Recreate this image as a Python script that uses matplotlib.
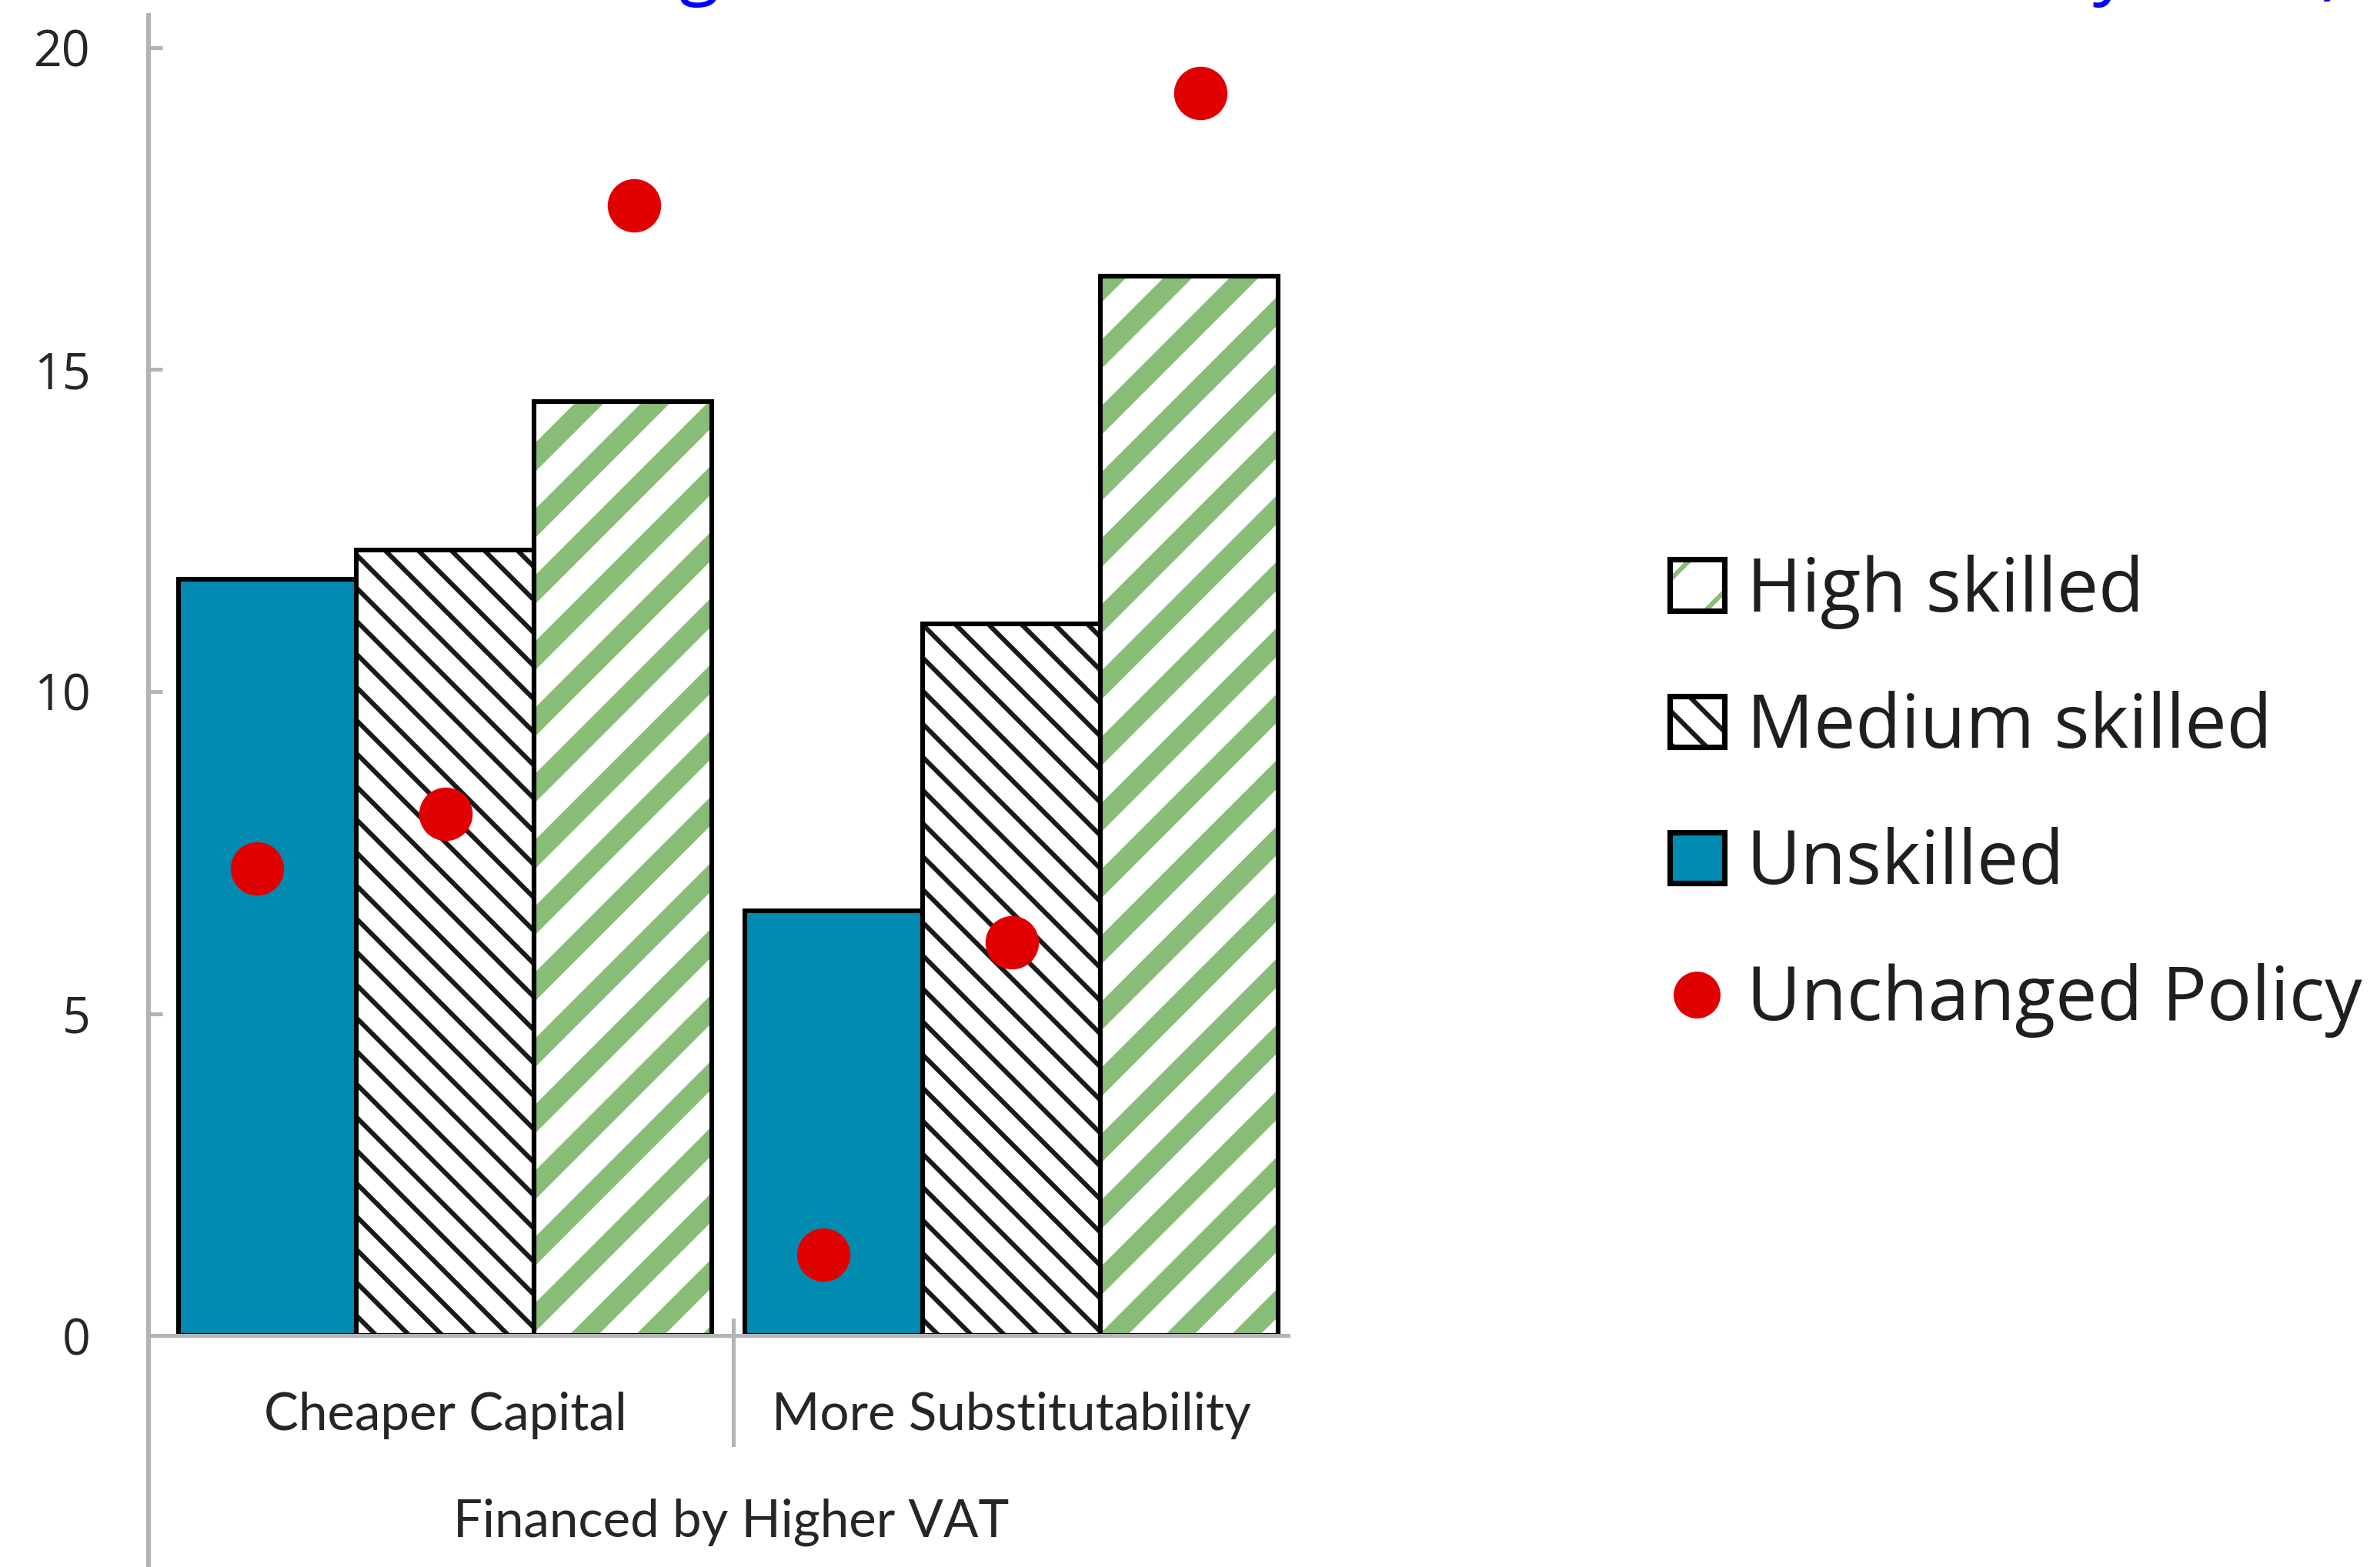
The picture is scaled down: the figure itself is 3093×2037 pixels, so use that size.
import numpy as np
import matplotlib
matplotlib.use("Agg")
import matplotlib.pyplot as plt
from matplotlib.patches import Patch
from matplotlib.lines import Line2D

# data
categories = ["Cheaper Capital", "More Substitutability"]
group_label = "Financed by Higher VAT"
unskilled = [11.75, 6.6]
medium = [12.2, 11.05]
high_skilled = [14.5, 16.45]
policy_unskilled = [7.25, 1.25]
policy_medium = [8.1, 6.1]
policy_high = [17.55, 19.3]
yticks = [0, 5, 10, 15, 20]
legend_labels = ["High skilled", "Medium skilled", "Unskilled", "Unchanged Policy"]
title = "Real Wage Increase Relative to Benchmark Run by Skills)"

TEAL = "#028bb0"
GREEN = "#88bd78"
RED = "#e00000"
AXIS_GREY = "#b4b4b4"
TEXT = "#262626"
NARROW = ["Liberation Sans Narrow", "Lato", "DejaVu Sans"]

MED_HATCH = "\\" * 4
HIGH_HATCH = "//"
MED_LW = 0.85
HIGH_LW = 3.7

plt.rcParams["font.family"] = ["Open Sans", "DejaVu Sans"]

# dpi picked so the hatch spacing comes out right
DPI = 516
fig = plt.figure(figsize=(3093 / DPI, 2037 / DPI), dpi=DPI)
ax = fig.add_axes([0.0624, 0.0, 0.4798, 0.9902])

x = np.arange(len(categories))
w = 0.3137
step = 0.333


def hatch_lw(bars, lw):
    for p in bars:
        if hasattr(p, "set_hatch_linewidth"):
            p.set_hatch_linewidth(lw)


ax.bar(x - w, unskilled, w, color=TEAL, edgecolor="black", linewidth=0.85, zorder=2)

plt.rcParams["hatch.linewidth"] = MED_LW
mb = ax.bar(x, medium, w, color="white", edgecolor="#1a1a1a", hatch=MED_HATCH, linewidth=0, zorder=2)
hatch_lw(mb, MED_LW)
ax.bar(x, medium, w, fill=False, edgecolor="black", linewidth=0.85, zorder=2.1)

plt.rcParams["hatch.linewidth"] = HIGH_LW
hb = ax.bar(x + w, high_skilled, w, color="white", edgecolor=GREEN, hatch=HIGH_HATCH, linewidth=0, zorder=2)
hatch_lw(hb, HIGH_LW)
ax.bar(x + w, high_skilled, w, fill=False, edgecolor="black", linewidth=0.85, zorder=2.1)

for off, vals in zip([-step, 0, step], [policy_unskilled, policy_medium, policy_high]):
    ax.plot(x + off, vals, "o", color=RED, ms=9.7, mec="none", zorder=3)

ax.axhline(0, color=AXIS_GREY, lw=0.7, zorder=2.5)
for s in ["top", "right", "bottom"]:
    ax.spines[s].set_visible(False)
ax.spines["left"].set_color(AXIS_GREY)
ax.spines["left"].set_linewidth(0.85)

ax.set_xlim(-0.524, 1.492)
ax.set_ylim(-3.596, 20.502)
ax.set_xticks([])
ax.set_yticks(yticks)
ax.tick_params(axis="y", direction="in", length=2.5, width=0.7, color=AXIS_GREY,
               pad=10.5, labelsize=9, labelcolor=TEXT)

for xi, cat in zip(x, categories):
    ax.text(xi, -1.24, cat, ha="center", va="center", fontsize=9.4,
            family=NARROW, color=TEXT)
ax.text(0.504, -2.9, group_label, ha="center", va="center", fontsize=9.4,
        family=NARROW, color=TEXT)
ax.plot([0.508, 0.508], [0.24, -1.70], color=AXIS_GREY, lw=0.7, clip_on=False)

# legend
plt.rcParams["hatch.linewidth"] = HIGH_LW
h_high = (Patch(facecolor="white", edgecolor=GREEN, hatch=HIGH_HATCH, lw=0),
          Patch(fill=False, edgecolor="black", lw=1.0))
hatch_lw(h_high[:1], HIGH_LW)
plt.rcParams["hatch.linewidth"] = MED_LW
h_med = (Patch(facecolor="white", edgecolor="#1a1a1a", hatch=MED_HATCH, lw=0),
         Patch(fill=False, edgecolor="black", lw=1.0))
hatch_lw(h_med[:1], MED_LW)
h_un = Patch(facecolor=TEAL, edgecolor="black", lw=1.0)
h_pol = Line2D([], [], marker="o", ls="none", color=RED, ms=8.5, mec="none")

fig.legend([h_high, h_med, h_un, h_pol], legend_labels, loc="center left",
           bbox_to_anchor=(2170 / 3093, 1 - 1035 / 2037), frameon=False,
           fontsize=13.5, labelcolor="#1f1f1f", handlelength=0.73, handleheight=0.68,
           handletextpad=0.3, labelspacing=0.83, borderpad=0, borderaxespad=0)

fig.text(522 / 3093, 1 + 13 / 2037, title, color="blue", fontsize=13.5,
         ha="left", va="baseline")

fig.savefig("out.png", dpi=DPI)
